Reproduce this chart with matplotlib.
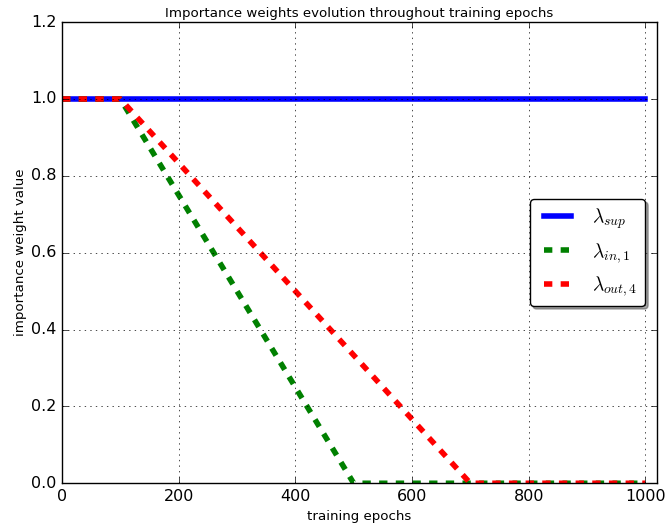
import matplotlib
matplotlib.use("Agg")
import matplotlib.pyplot as plt

plt.style.use('classic')
plt.rcParams['mathtext.fontset'] = 'cm'

# blue and green series
epochs = [0, 100, 500, 1000]
lambda_sup = [1.0, 1.0, 1.0, 1.0]
lambda_in1 = [1.0, 1.0, 0.0, 0.0]
# red series: 1 until 100, linear to 0 at 700
epochs_out = [0, 100, 700, 1000]
lambda_out4 = [1.0, 1.0, 0.0, 0.0]

fig = plt.figure(figsize=(6.67, 5.27), dpi=100, facecolor='white')
ax = fig.add_axes([0.093, 0.083, 0.892, 0.875])
ax.plot(epochs, lambda_sup, color='blue', lw=4, label=r'$\lambda_{sup}$')
ax.plot(epochs, lambda_in1, color='green', lw=4, ls='--', label=r'$\lambda_{in,1}$')
ax.plot(epochs_out, lambda_out4, color='red', lw=4, ls='--', label=r'$\lambda_{out,4}$')
ax.set_xlim(0, 1020)
ax.set_ylim(0, 1.2)
ax.set_xticks([0, 200, 400, 600, 800, 1000])
ax.set_yticks([0.0, 0.2, 0.4, 0.6, 0.8, 1.0, 1.2])
ax.grid(True, color='black', ls=':')
ax.set_title('Importance weights evolution throughout training epochs', fontsize=9.6, pad=3.5)
ax.set_xlabel('training epochs', fontsize=9.6, labelpad=4.5)
ax.set_ylabel('importance weight value', fontsize=9.6, labelpad=3)
ax.tick_params(labelsize=11.5)
ax.legend(loc='center right', shadow=True, fancybox=True, fontsize=14, borderaxespad=0.6)
fig.savefig('out.png', dpi=100, facecolor='white')
